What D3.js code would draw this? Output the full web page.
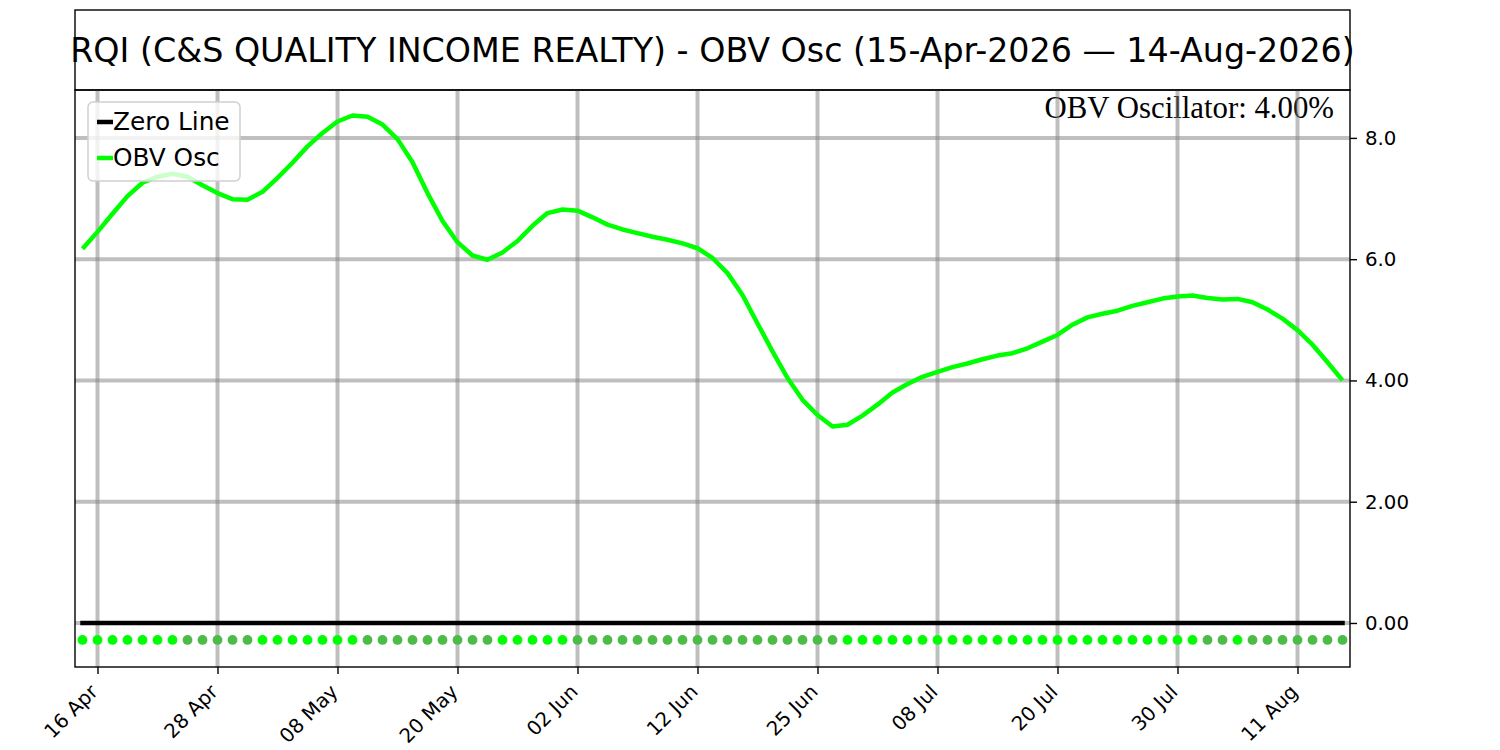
<!DOCTYPE html>
<html><head><meta charset="utf-8">
<script src="https://cdn.jsdelivr.net/npm/d3@7"></script>
<style>body{margin:0;background:#fff}svg{display:block}</style>
</head><body>
<script>
const titleText = "RQI (C&S QUALITY INCOME REALTY) - OBV Osc (15-Apr-2026 \u2014 14-Aug-2026)";
const obvOsc = [6.17,6.45,6.75,7.04,7.26,7.36,7.41,7.36,7.22,7.09,
  6.99,6.98,7.11,7.34,7.59,7.86,8.08,8.27,8.37,8.35,
  8.22,7.98,7.60,7.09,6.63,6.28,6.06,5.99,6.11,6.30,
  6.55,6.76,6.82,6.80,6.69,6.57,6.49,6.43,6.37,6.32,
  6.26,6.18,6.02,5.77,5.41,4.94,4.48,4.04,3.68,3.43,
  3.24,3.27,3.42,3.60,3.80,3.94,4.06,4.14,4.22,4.28,
  4.35,4.41,4.45,4.53,4.64,4.75,4.92,5.04,5.10,5.15,
  5.23,5.29,5.35,5.385,5.40,5.36,5.335,5.345,5.29,5.17,
  5.02,4.83,4.59,4.30,4.00];
const zeroLine = obvOsc.map(() => 0);
const signalLevel = -0.28;
const xTickIndex = [1,9,17,25,33,41,49,57,65,73,81];
const xTickLabels = ["16 Apr","28 Apr","08 May","20 May","02 Jun","12 Jun","25 Jun","08 Jul","20 Jul","30 Jul","11 Aug"];
const yTickValues = [0,2,4,6,8];
const yTickLabels = ["0.00","2.00","4.00","6.0","8.0"];
const legendLabels = ["Zero Line","OBV Osc"];
const annotation = "OBV Oscillator: 4.00%";

const W=1500,H=750;
const L=75,R=1350,T=90,B=667;
const svg=d3.select("body").append("svg").attr("width",W).attr("height",H);
const x=d3.scaleLinear().domain([-0.5,obvOsc.length-0.5]).range([L,R]);
const y=d3.scaleLinear().domain([-0.726,8.79]).range([B,T]);

// title box
svg.append("rect").attr("x",L).attr("y",10).attr("width",R-L).attr("height",T-10)
  .attr("fill","none").attr("stroke","#000").attr("stroke-width",1.4);
svg.append("text").attr("x",(L+R)/2).attr("y",62).attr("text-anchor","middle")
  .attr("font-family","DejaVu Sans").attr("font-size",33.3).attr("fill","#000").text(titleText);

// annotation (under grid)
svg.append("text").attr("x",1334).attr("y",118).attr("text-anchor","end")
  .attr("font-family","Liberation Serif").attr("font-size",30.8).attr("fill","#000").text(annotation);

// grid
const grid=svg.append("g").attr("stroke","#808080").attr("stroke-opacity",0.5).attr("stroke-width",4);
grid.selectAll("line.v").data(xTickIndex).join("line").attr("class","v")
  .attr("x1",d=>x(d)).attr("x2",d=>x(d)).attr("y1",T).attr("y2",B);
grid.selectAll("line.h").data(yTickValues).join("line").attr("class","h")
  .attr("y1",d=>y(d)).attr("y2",d=>y(d)).attr("x1",L).attr("x2",R);

// zero line
const line=d3.line().x((d,i)=>x(i)).y(d=>y(d));
svg.append("path").datum(zeroLine).attr("d",line).attr("fill","none")
  .attr("stroke","#000").attr("stroke-width",4.5).attr("stroke-linecap","square");
// obv line
svg.append("path").datum(obvOsc).attr("d",line).attr("fill","none")
  .attr("stroke","#00ff00").attr("stroke-width",4.5).attr("stroke-linejoin","round");

// signal dots
svg.append("g").selectAll("circle").data(obvOsc).join("circle")
  .attr("cx",(d,i)=>x(i)).attr("cy",y(signalLevel)).attr("r",4.9)
  .attr("fill",(d,i)=> (i===0 || d>obvOsc[i-1]) ? "#00ff00" : "#4cbb47");

// frame
svg.append("rect").attr("x",L).attr("y",T).attr("width",R-L).attr("height",B-T)
  .attr("fill","none").attr("stroke","#000").attr("stroke-width",1.4);

// x axis
const xa=svg.append("g").attr("transform",`translate(0,${B})`)
  .call(d3.axisBottom(x).tickValues(xTickIndex).tickFormat((d,i)=>xTickLabels[i]).tickSize(7));
xa.select(".domain").remove();
xa.selectAll("line").attr("stroke","#000").attr("stroke-width",1.4);
xa.selectAll("text").attr("font-family","DejaVu Sans").attr("font-size",19.8).attr("fill","#000")
  .attr("text-anchor","end").attr("x",0).attr("y",0).attr("dy",0)
  .attr("transform","translate(1,26) rotate(-45)");

// y axis right
const ya=svg.append("g").attr("transform",`translate(${R},0)`)
  .call(d3.axisRight(y).tickValues(yTickValues).tickFormat((d,i)=>yTickLabels[i]).tickSize(7).tickPadding(8));
ya.select(".domain").remove();
ya.selectAll("line").attr("stroke","#000").attr("stroke-width",1.4);
ya.selectAll("text").attr("font-family","DejaVu Sans").attr("font-size",19.8).attr("fill","#000");

// legend
const lg=svg.append("g");
lg.append("rect").attr("x",88).attr("y",102).attr("width",152).attr("height",79).attr("rx",5)
  .attr("fill","#fff").attr("fill-opacity",0.8).attr("stroke","#d0d0d0").attr("stroke-width",1.5);
const legColors=["#000","#00ff00"];
legendLabels.forEach((t,i)=>{
  const yy=122+i*36;
  lg.append("line").attr("x1",97).attr("x2",113).attr("y1",yy).attr("y2",yy)
    .attr("stroke",legColors[i]).attr("stroke-width",4.5);
  lg.append("text").attr("x",113).attr("y",130+i*36).attr("font-family","DejaVu Sans")
    .attr("font-size",24.8).attr("fill","#000").text(t);
});
</script>
</body></html>
